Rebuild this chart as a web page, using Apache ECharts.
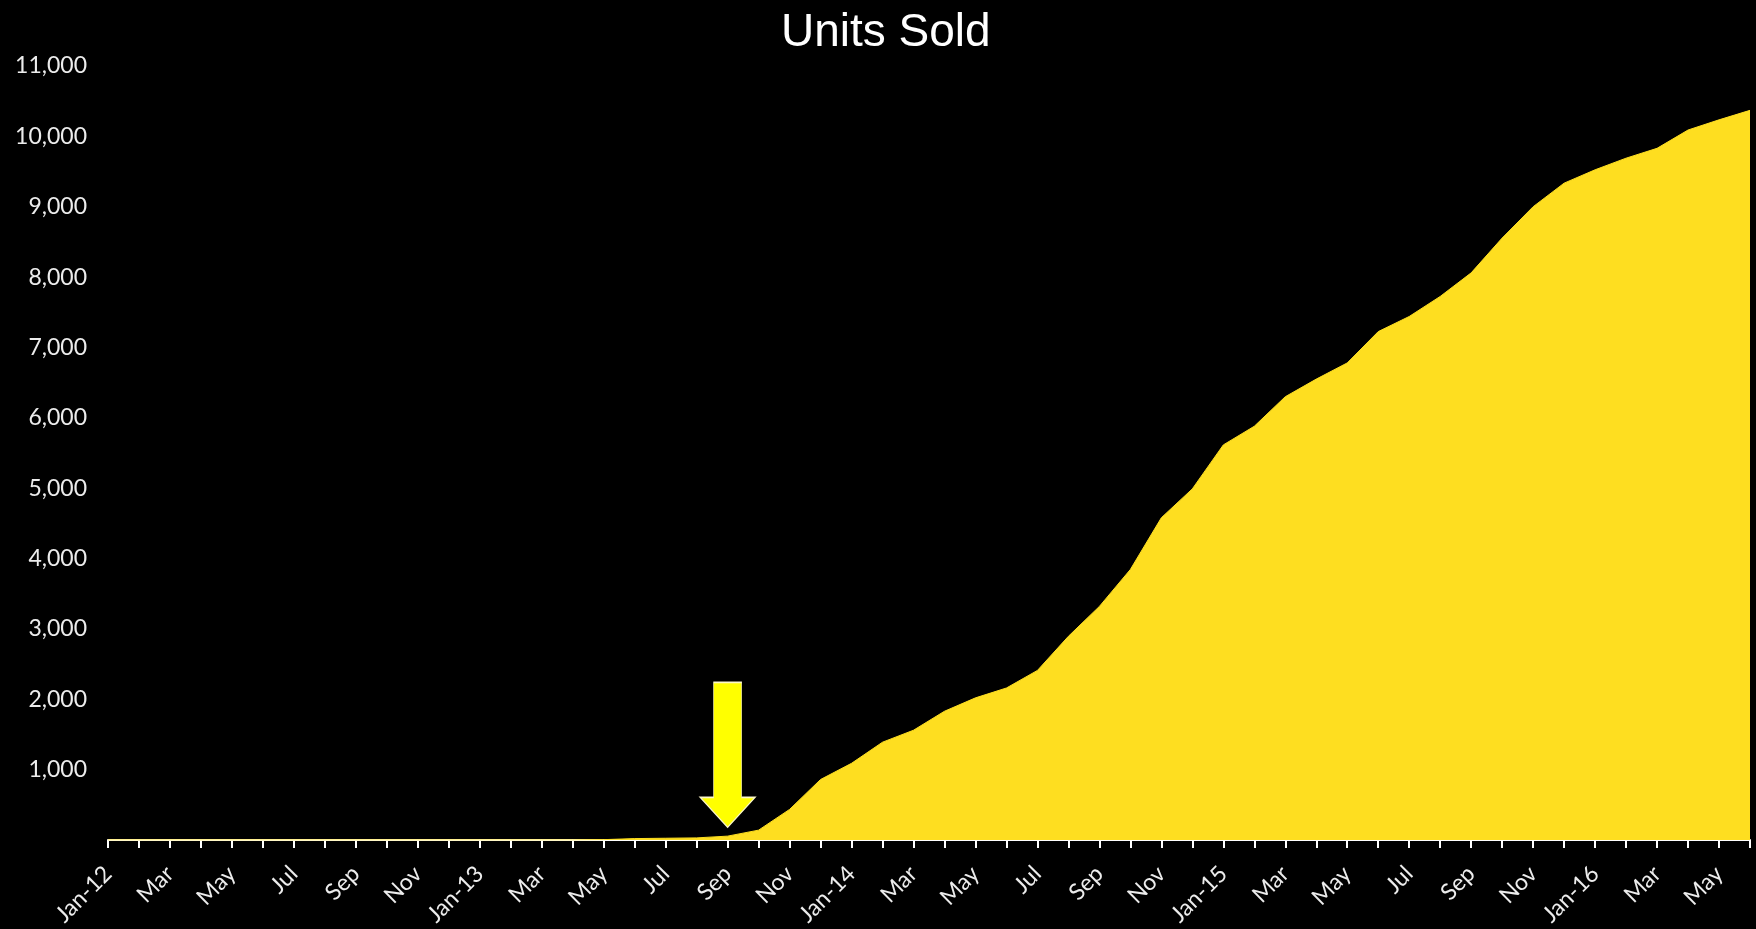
<!DOCTYPE html>
<html>
<head>
<meta charset="utf-8">
<title>Units Sold</title>
<script src="https://cdn.jsdelivr.net/npm/echarts@6/dist/echarts.min.js"></script>
<style>
  html, body { margin: 0; padding: 0; background: #000; }
  #chart { width: 1756px; height: 929px; }
</style>
</head>
<body>
<div id="chart"></div>
<script>
// Monthly categories, Jan 2012 – Jun 2016 (January carries the year)
const months = [
  'Jan-12','Feb','Mar','Apr','May','Jun','Jul','Aug','Sep','Oct','Nov','Dec',
  'Jan-13','Feb','Mar','Apr','May','Jun','Jul','Aug','Sep','Oct','Nov','Dec',
  'Jan-14','Feb','Mar','Apr','May','Jun','Jul','Aug','Sep','Oct','Nov','Dec',
  'Jan-15','Feb','Mar','Apr','May','Jun','Jul','Aug','Sep','Oct','Nov','Dec',
  'Jan-16','Feb','Mar','Apr','May','Jun'
];

// Cumulative units sold per month
const units2012 = [0, 0, 0, 0, 0, 0, 0, 0, 0, 0, 0, 0];
const units2013 = [0, 0, 0, 0, 5, 20, 25, 30, 55, 140, 435, 860];
const units2014 = [1090, 1390, 1560, 1830, 2020, 2160, 2410, 2895, 3320, 3845, 4580, 4990];
const units2015 = [5615, 5880, 6300, 6550, 6780, 7225, 7440, 7725, 8060, 8555, 9000, 9335];
const units2016 = [9525, 9690, 9830, 10090, 10235, 10370];

const unitsSold = [].concat(units2012, units2013, units2014, units2015, units2016);

// Value axis range
const yMin = 0;
const yMax = 11000;
const yStep = 1000;

// Launch marker: month index (Sep-13) and the value its tip rests on
const arrowMonth = 20;
const arrowTip = 180;

const labelFont = 'Lato, "Open Sans", sans-serif';
const labelColor = '#ececec';

const chart = echarts.init(document.getElementById('chart'), null, { renderer: 'canvas' });

chart.setOption({
  backgroundColor: '#000000',
  animation: false,
  title: {
    text: 'Units Sold',
    left: 781,
    top: 10,
    padding: 0,
    textStyle: {
      color: '#ffffff',
      fontFamily: '"Liberation Sans", Arial, sans-serif',
      fontSize: 46,
      fontWeight: 'normal'
    }
  },
  grid: {
    left: 108,
    right: 6,
    top: 66,
    bottom: 89,
    containLabel: false,
    outerBoundsMode: 'none'
  },
  xAxis: {
    type: 'category',
    data: months,
    boundaryGap: false,
    axisLine: { show: true, lineStyle: { color: '#ffffff', width: 2 } },
    axisTick: { show: true, interval: 0, length: 8, lineStyle: { color: '#ffffff', width: 2 } },
    axisLabel: {
      interval: 1,
      rotate: 45,
      margin: 30,
      color: labelColor,
      fontFamily: labelFont,
      fontSize: 23
    },
    splitLine: { show: false }
  },
  yAxis: {
    type: 'value',
    min: yMin,
    max: yMax,
    interval: yStep,
    axisLine: { show: false },
    axisTick: { show: false },
    splitLine: { show: false },
    axisLabel: {
      margin: 21,
      color: labelColor,
      fontFamily: labelFont,
      fontSize: 23,
      formatter: v => (v === 0 ? '' : v.toLocaleString('en-US'))
    }
  },
  series: [{
    name: 'Units Sold',
    type: 'line',
    data: unitsSold,
    symbol: 'none',
    smooth: false,
    lineStyle: { color: '#FEDE20', width: 1 },
    areaStyle: { color: '#FEDE20', opacity: 1 },
    markPoint: {
      silent: true,
      animation: false,
      data: [{
        coord: [arrowMonth, arrowTip],
        symbol: 'path://M13.5 0 L41.5 0 L41.5 115 L55 115 L27.5 145 L0 115 L13.5 115 Z',
        symbolSize: [55, 145],
        symbolOffset: [0, '-50%'],
        itemStyle: { color: '#FFFF00', borderColor: '#fbf6c8', borderWidth: 1 },
        label: { show: false }
      }]
    },
    z: 2
  }]
});
</script>
</body>
</html>
